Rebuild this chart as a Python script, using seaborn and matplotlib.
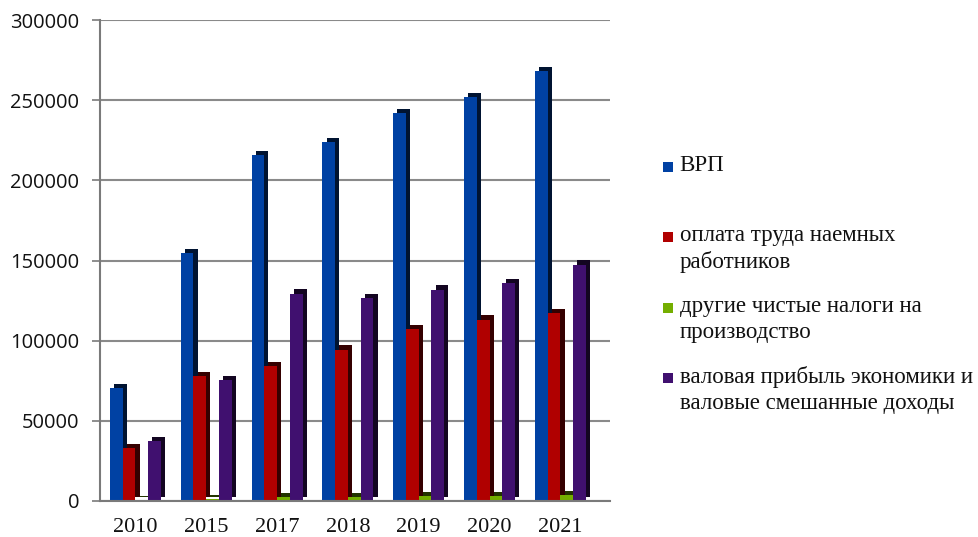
import matplotlib
matplotlib.use("Agg")
import matplotlib.pyplot as plt
import matplotlib.patheffects as pe
from matplotlib.patches import Rectangle, Patch
from matplotlib.legend_handler import HandlerPatch
import seaborn as sns
import pandas as pd

years = ['2010', '2015', '2017', '2018', '2019', '2020', '2021']
vrp = [70500, 154600, 215800, 224000, 241900, 252100, 268000]
oplata = [32900, 77700, 84400, 94400, 107300, 113100, 117300]
nalogi = [700, 1200, 2300, 2600, 3000, 3300, 3500]
pribyl = [37500, 75600, 129400, 126700, 131900, 136000, 147500]

series_names = ['ВРП',
                'оплата труда наемных\nработников',
                'другие чистые налоги на\nпроизводство',
                'валовая прибыль экономики и\nваловые смешанные доходы']
colors = ['#0041A3', '#B00000', '#74AE00', '#40106F']

df = pd.DataFrame({
    'year': years * 4,
    'value': vrp + oplata + nalogi + pribyl,
    'series': sum([[s] * len(years) for s in series_names], []),
})

sns.set_theme(style='white')
plt.rcParams['font.family'] = ['Liberation Serif', 'DejaVu Serif']

fig = plt.figure(figsize=(9.79, 5.37), dpi=100)
ax = fig.add_axes([100 / 979, 1 - 501 / 537, 510 / 979, 481 / 537])

sns.barplot(data=df, x='year', y='value', hue='series', hue_order=series_names,
            palette=colors, width=0.72, ax=ax, saturation=1, linewidth=0, legend=False)

for p in ax.patches:
    p.set_path_effects([pe.withSimplePatchShadow(offset=(3, 3), shadow_rgbFace=None,
                                                 alpha=1, rho=0.3), pe.Normal()])

ax.set_ylim(0, 300000)
ax.set_xlim(-0.5, 6.7)
ax.set_yticks(range(0, 300001, 50000))
ax.set_yticklabels([str(v) for v in range(0, 300001, 50000)],
                   fontfamily='Open Sans', fontsize=14.5, color='#111111')
ax.yaxis.grid(True, color='#8a8a8a', linewidth=1.5)
ax.set_axisbelow(True)
ax.set_xlabel('')
ax.set_ylabel('')
ax.set_xticks(range(len(years)))
ax.set_xticklabels(years, fontsize=16, color='#111111')
ax.set_xticks([i - 0.5 for i in range(len(years) + 1)], minor=True)
ax.tick_params(axis='x', which='major', length=0, pad=12)
ax.tick_params(axis='x', which='minor', length=6, color='#7a7a7a', width=1.2)
ax.tick_params(axis='y', length=6, color='#7a7a7a', width=1.2, left=True, pad=9)
for s in ['top', 'right']:
    ax.spines[s].set_visible(False)
for s in ['left', 'bottom']:
    ax.spines[s].set_color('#7a7a7a')
    ax.spines[s].set_linewidth(1.5)


def top_square(legend, orig_handle, xdescent, ydescent, width, height, fontsize):
    s = 0.44 * fontsize
    return Rectangle((-xdescent, 0.64 * fontsize), s, s)


handles = [Patch(facecolor=c, edgecolor='none') for c in colors]
labels = [l if '\n' in l else l + '\n ' for l in series_names]
leg = fig.legend(handles, labels, loc='upper left', bbox_to_anchor=(663 / 979, 1 - 155 / 537),
                 frameon=False, fontsize=16.5, handlelength=0.44, handleheight=0.44,
                 handletextpad=0.29, labelspacing=1.0, borderpad=0, borderaxespad=0,
                 handler_map={Patch: HandlerPatch(patch_func=top_square)})
for t in leg.get_texts():
    t.set_linespacing(1.31)
    t.set_color('#111111')

fig.savefig('out.png', dpi=100)
